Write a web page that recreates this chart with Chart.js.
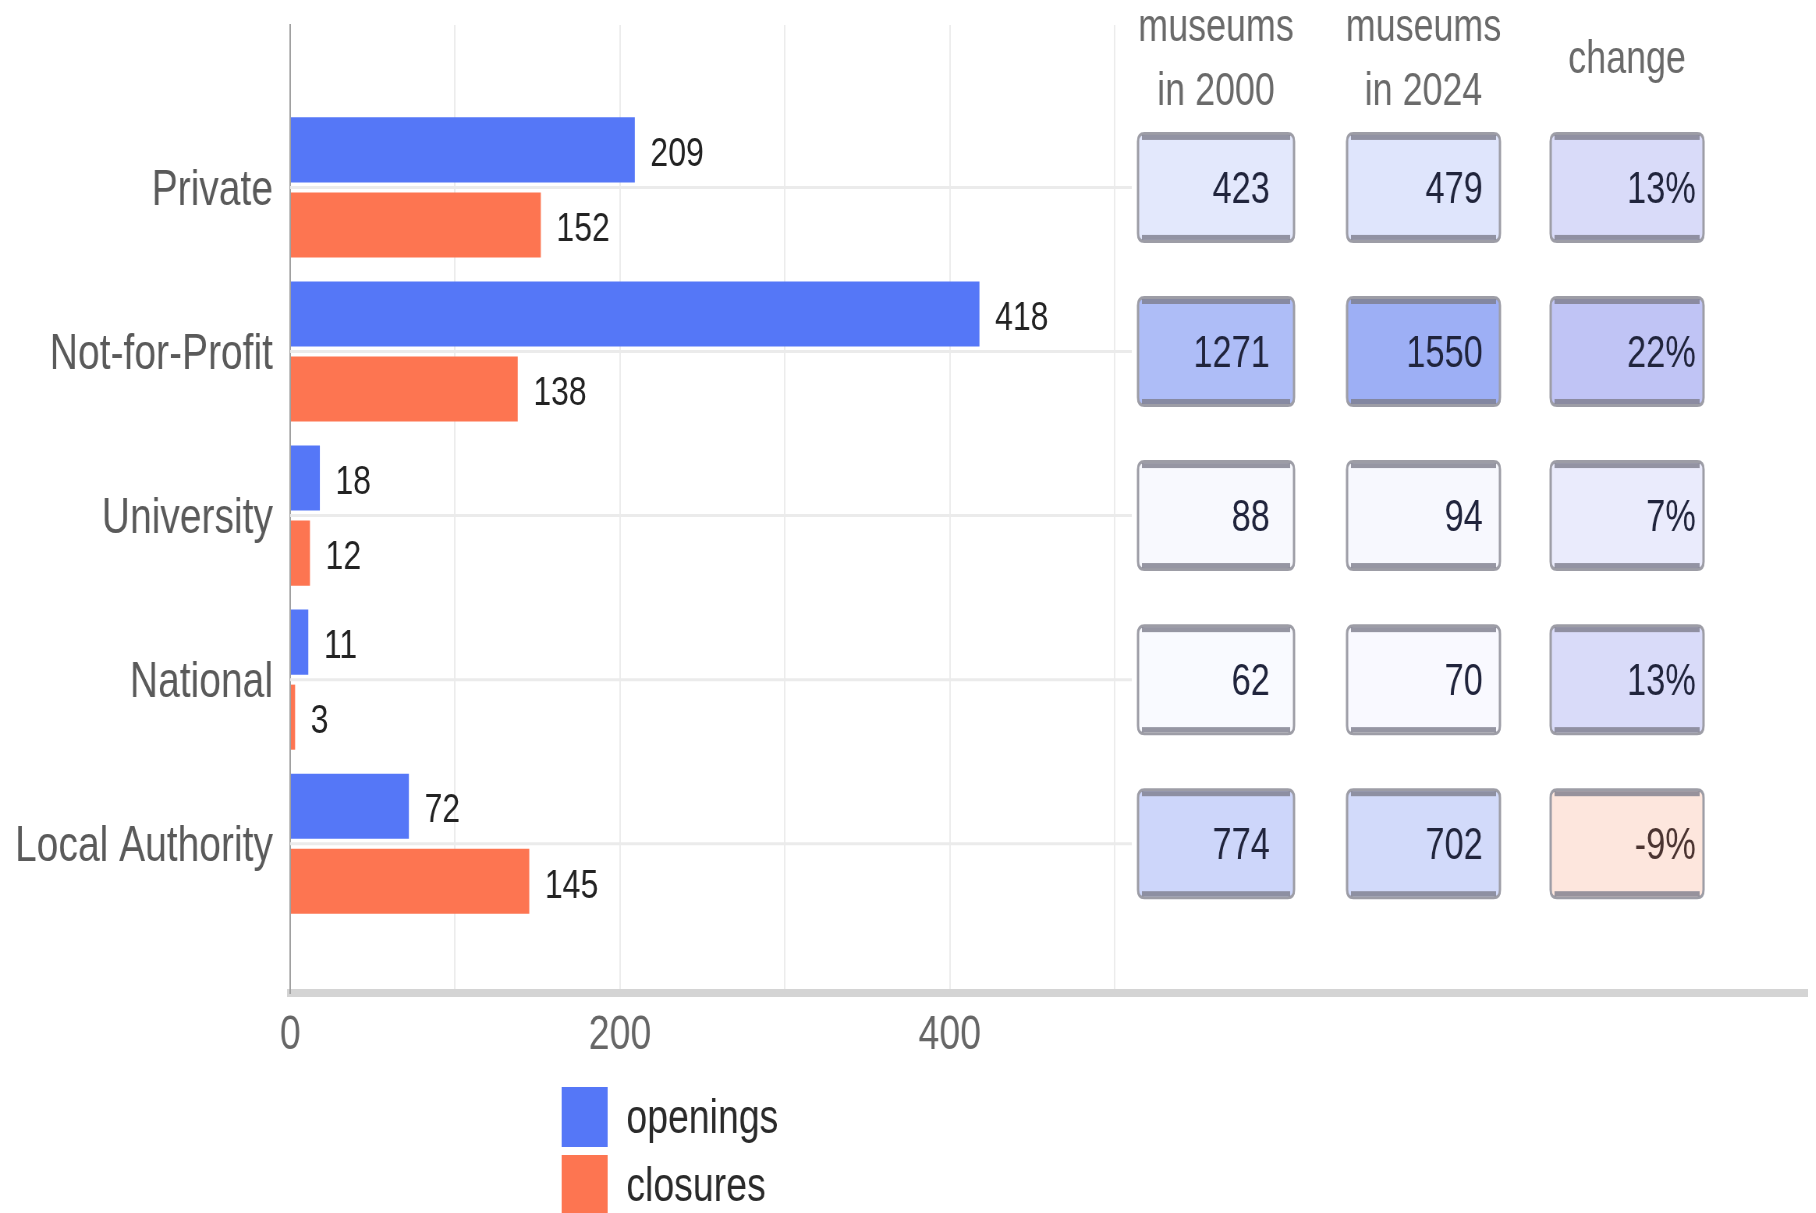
<!DOCTYPE html>
<html>
<head>
<meta charset="utf-8">
<title>Museum openings and closures</title>
<script src="https://cdn.jsdelivr.net/npm/chart.js"></script>
<style>
  html, body { margin: 0; padding: 0; background: #fff; overflow: hidden; }
  /* the reference is a horizontally squeezed picture, so draw wide and squeeze */
  #wrap { width: 2328px; height: 1213px; transform: scaleX(0.78); transform-origin: 0 0; }
</style>
</head>
<body>
<div id="wrap"><canvas id="myChart"></canvas></div>
<script>
const categories = ["Private", "Not-for-Profit", "University", "National", "Local Authority"];
const openings = [209, 418, 18, 11, 72];
const closures = [152, 138, 12, 3, 145];
const museums2000 = [423, 1271, 88, 62, 774];
const museums2024 = [479, 1550, 94, 70, 702];
const changePct = [13, 22, 7, 13, -9];
const xTickLabels = [0, 200, 400];
const xGridValues = [0, 100, 200, 300, 400, 500];
const tableHeaders = [["museums", "in 2000"], ["museums", "in 2024"], ["change"]];

const FONT = "'Liberation Sans', Arial, sans-serif";
const BLUE = "#5577f7";
const ORANGE = "#fd7551";

// heat colour for the table cells
const mix = (a, b, t) => {
  const c = a.map((v, i) => Math.round(v + (b[i] - v) * t));
  return `rgb(${c[0]},${c[1]},${c[2]})`;
};
const countColor = (v) => mix([253, 253, 255], [157, 175, 245], Math.min(1, v / 1550));
const changeColor = (v) => v >= 0
  ? mix([253, 253, 255], [192, 196, 245], Math.min(1, v / 22))
  : mix([253, 253, 255], [253, 197, 172], Math.min(1, -v / 22));

const roundRect = (ctx, x, y, w, h, r) => {
  ctx.beginPath();
  ctx.moveTo(x + r, y);
  ctx.lineTo(x + w - r, y);
  ctx.quadraticCurveTo(x + w, y, x + w, y + r);
  ctx.lineTo(x + w, y + h - r);
  ctx.quadraticCurveTo(x + w, y + h, x + w - r, y + h);
  ctx.lineTo(x + r, y + h);
  ctx.quadraticCurveTo(x, y + h, x, y + h - r);
  ctx.lineTo(x, y + r);
  ctx.quadraticCurveTo(x, y, x + r, y);
  ctx.closePath();
};

const rowLines = {
  id: "rowLines",
  beforeDatasetsDraw(chart) {
    const { ctx, chartArea, scales } = chart;
    ctx.save();
    ctx.strokeStyle = "#ebebeb";
    ctx.lineWidth = 3;
    categories.forEach((_, i) => {
      const y = scales.y.getPixelForValue(i);
      ctx.beginPath();
      ctx.moveTo(chartArea.left, y);
      ctx.lineTo(1451, y);
      ctx.stroke();
    });
    ctx.restore();
  },
};

const valueLabels = {
  id: "valueLabels",
  afterDatasetsDraw(chart) {
    const { ctx } = chart;
    ctx.save();
    ctx.font = `41px ${FONT}`;
    ctx.fillStyle = "#222";
    ctx.textBaseline = "middle";
    ctx.textAlign = "left";
    chart.data.datasets.forEach((ds, di) => {
      const meta = chart.getDatasetMeta(di);
      meta.data.forEach((bar, i) => {
        ctx.fillText(String(ds.data[i].x), bar.x + 20, bar.y + 5);
      });
    });
    ctx.restore();
  },
};

const sideTable = {
  id: "sideTable",
  afterDraw(chart) {
    const { ctx, scales } = chart;
    const cols = [
      { left: 1459, width: 200, pad: 31, values: museums2000, fmt: (v) => String(v), color: countColor },
      { left: 1727, width: 196, pad: 22, values: museums2024, fmt: (v) => String(v), color: countColor },
      { left: 1988, width: 196, pad: 10, values: changePct, fmt: (v) => v + "%", color: changeColor },
    ];
    ctx.save();
    // headers
    ctx.fillStyle = "#6a6a6a";
    ctx.font = `46px ${FONT}`;
    ctx.textAlign = "center";
    ctx.textBaseline = "middle";
    cols.forEach((c, ci) => {
      const cx = c.left + c.width / 2;
      const lines = tableHeaders[ci];
      if (lines.length === 2) {
        ctx.fillText(lines[0], cx, 28);
        ctx.fillText(lines[1], cx, 92);
      } else {
        ctx.fillText(lines[0], cx, 60);
      }
    });
    // cells
    const h = 108;
    categories.forEach((_, i) => {
      const cy = scales.y.getPixelForValue(i);
      cols.forEach((c) => {
        const v = c.values[i];
        const top = cy - h / 2;
        roundRect(ctx, c.left, top, c.width, h, 8);
        ctx.fillStyle = c.color(v);
        ctx.fill();
        ctx.lineWidth = 3;
        ctx.strokeStyle = "#9d9da6";
        ctx.stroke();
        ctx.fillStyle = "rgba(125,125,140,0.8)";
        ctx.fillRect(c.left + 5, top + 1.5, c.width - 10, 5);
        ctx.fillRect(c.left + 5, top + h - 6.5, c.width - 10, 5);
        ctx.fillStyle = v < 0 ? "#4a3330" : "#20243c";
        ctx.font = `44px ${FONT}`;
        ctx.textAlign = "right";
        ctx.fillText(c.fmt(v), c.left + c.width - c.pad, cy + 3);
      });
    });
    ctx.restore();
  },
};

const sideLegend = {
  id: "sideLegend",
  afterDraw(chart) {
    const { ctx } = chart;
    ctx.save();
    ctx.font = `48px ${FONT}`;
    ctx.textBaseline = "middle";
    ctx.textAlign = "left";
    chart.data.datasets.forEach((ds, di) => {
      const top = 1087 + di * 68;
      ctx.fillStyle = ds.backgroundColor;
      ctx.fillRect(720, top, 59, 60);
      ctx.fillStyle = "#2a2a2a";
      ctx.fillText(ds.label, 803, top + 33);
    });
    ctx.restore();
  },
};

const ctx = document.getElementById("myChart").getContext("2d");
new Chart(ctx, {
  type: "bar",
  data: {
    datasets: [
      {
        label: "openings",
        data: openings.map((v, i) => ({ x: v, y: i })),
        backgroundColor: BLUE,
        categoryPercentage: 0.915,
        barPercentage: 0.867,
      },
      {
        label: "closures",
        data: closures.map((v, i) => ({ x: v, y: i })),
        backgroundColor: ORANGE,
        categoryPercentage: 0.915,
        barPercentage: 0.867,
      },
    ],
  },
  options: {
    indexAxis: "y",
    responsive: true,
    maintainAspectRatio: false,
    animation: false,
    layout: { padding: { top: 25, right: 11, left: 0, bottom: 0 } },
    plugins: {
      legend: { display: false },
      tooltip: { enabled: false },
    },
    scales: {
      x: {
        type: "linear",
        position: "bottom",
        min: 0,
        max: 920,
        afterBuildTicks: (scale) => {
          scale.ticks = xGridValues.map((v) => ({ value: v }));
        },
        afterFit: (scale) => {
          scale.height = 220;
          scale.paddingLeft = 0;
          scale.paddingRight = 0;
        },
        ticks: {
          padding: 14,
          color: "#666",
          font: { family: FONT, size: 48 },
          callback: (v) => (xTickLabels.includes(v) ? String(v) : ""),
        },
        grid: { color: "#ececec", lineWidth: 2, drawTicks: false },
        border: { display: true, color: "#d4d4d4", width: 8 },
      },
      y: {
        type: "linear",
        offset: false,
        reverse: true,
        min: -0.99,
        max: 4.91,
        afterBuildTicks: (scale) => {
          scale.ticks = categories.map((_, i) => ({ value: i }));
        },
        afterFit: (scale) => {
          scale.width = 372;
          scale.paddingTop = 0;
          scale.paddingBottom = 0;
        },
        ticks: {
          padding: 22,
          labelOffset: 4,
          color: "#5a5a5a",
          font: { family: FONT, size: 50 },
          callback: (v) => categories[v],
        },
        grid: { color: "rgba(0,0,0,0)", drawTicks: false, offset: false },
        border: { display: true, color: "#a0a0a0", width: 2 },
      },
    },
  },
  plugins: [rowLines, valueLabels, sideTable, sideLegend],
});
</script>
</body>
</html>
